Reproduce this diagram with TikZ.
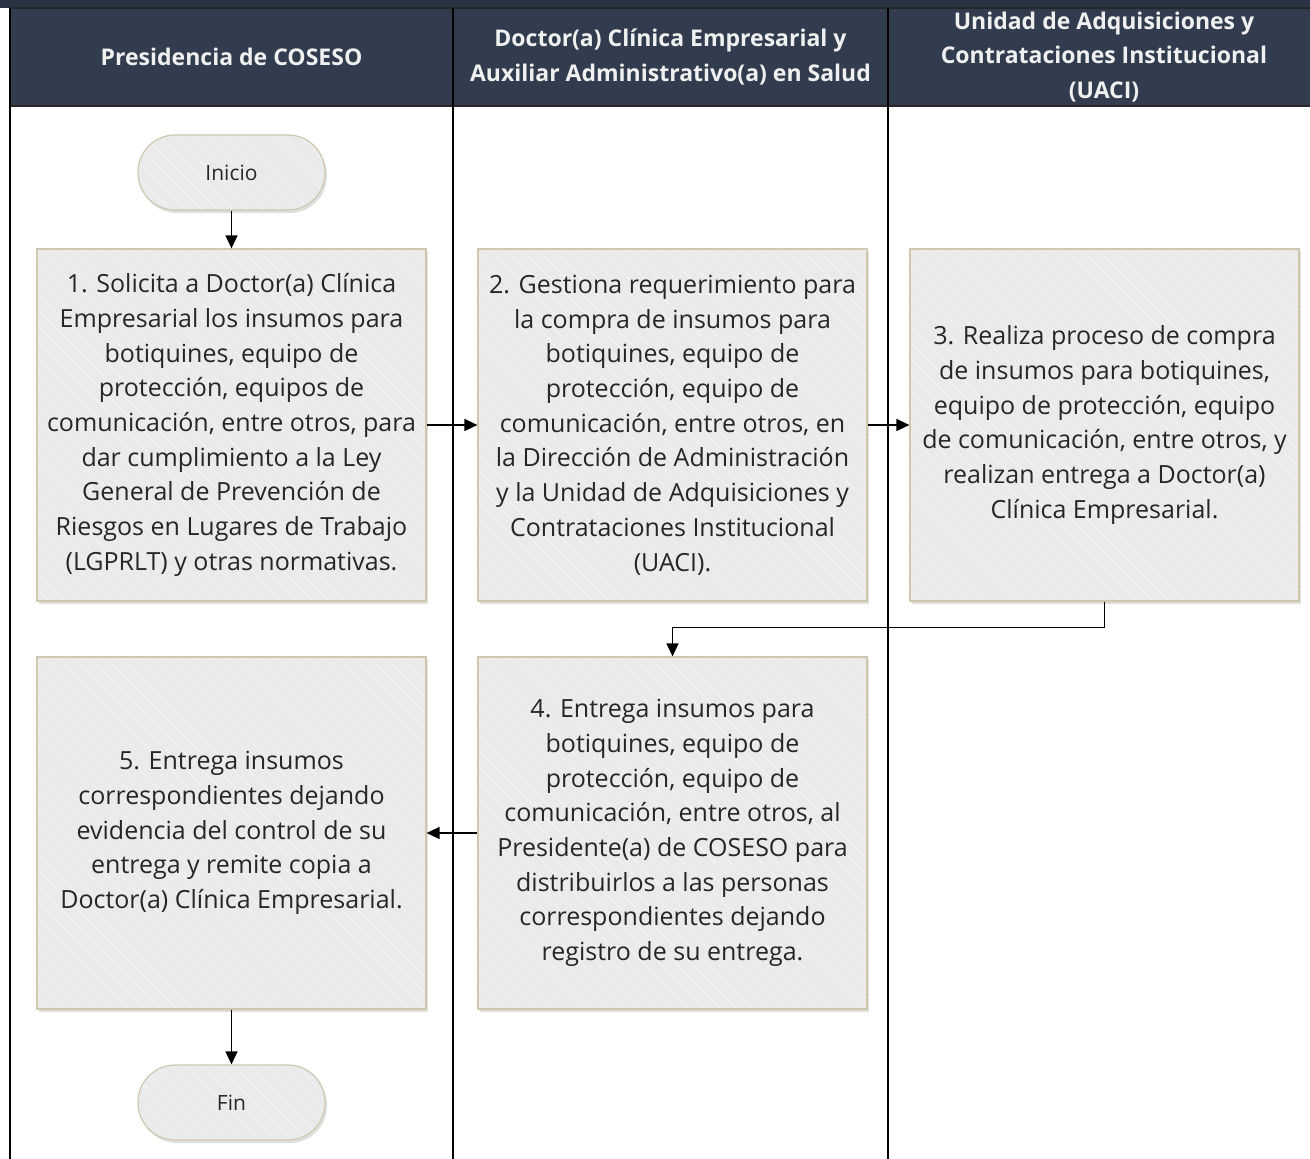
\documentclass[tikz,border=0pt]{standalone}
\usepackage{fontspec}
\setmainfont{Open Sans}
\usetikzlibrary{arrows.meta,shadows,patterns.meta}
\definecolor{hdr}{HTML}{323C4F}
\definecolor{hdrtop}{HTML}{2A3344}
\definecolor{boxfill}{HTML}{EAEAEA}
\definecolor{boxline}{HTML}{CFC7AE}
\definecolor{hatch}{HTML}{F1F1F1}
\definecolor{txt}{HTML}{262626}
\tikzset{
  procbox/.style={draw=boxline, line width=1.2pt,
    preaction={fill=boxfill, drop shadow={opacity=0.25, shadow xshift=2pt, shadow yshift=-3pt}},
    pattern={Lines[distance=11pt, angle=-45, line width=1.2pt]}, pattern color=hatch,
    minimum width=389pt, minimum height=352pt, inner sep=0pt, align=center,
    text=txt, font=\fontsize{25}{34.7}\selectfont},
  termbox/.style={draw=boxline, line width=1.2pt, rounded corners=37pt,
    preaction={fill=boxfill, drop shadow={opacity=0.25, shadow xshift=2pt, shadow yshift=-3pt}},
    pattern={Lines[distance=11pt, angle=-45, line width=1.2pt]}, pattern color=hatch,
    minimum width=187pt, minimum height=75pt, inner sep=0pt, align=center,
    text=txt, font=\fontsize{21}{24}\selectfont},
  hdrtext/.style={text=white!94!black, align=center, inner sep=0pt,
    font=\fontsize{23}{34.5}\selectfont\bfseries},
  flow/.style={-{Triangle[width=12pt,length=13pt]}, line width=1.4pt, black},
  lane/.style={line width=1.5pt, black}
}
\begin{document}
\begin{tikzpicture}[x=1pt,y=-1pt]
\useasboundingbox (0,0) rectangle (1310,1159);
% header band
\fill[hdrtop] (0,0) rectangle (1310,8);
\fill[hdr] (10,8) rectangle (1310,106);
\draw[line width=1.5pt, black!85] (10,8) -- (1310,8);
\draw[line width=1.5pt, black!85] (10,106) -- (1310,106);
% lanes
\draw[lane] (10,8) -- (10,1159);
\draw[lane] (453,8) -- (453,1159);
\draw[lane] (888,8) -- (888,1159);
% header texts
\node[hdrtext] (h1) at (231.5,57) {Presidencia de COSESO};
\node[hdrtext] (h2) at (670.5,57) {Doctor(a) Clínica Empresarial y\\Auxiliar Administrativo(a) en Salud};
\node[hdrtext] (h3) at (1104,57) {Unidad de Adquisiciones y\\Contrataciones Institucional\\(UACI)};
% nodes
\node[termbox] (ini) at (231.5,172.5) {Inicio};
\node[procbox] (b1) at (231.5,425) {1. Solicita a Doctor(a) Clínica\\Empresarial los insumos para\\botiquines, equipo de\\protección, equipos de\\comunicación, entre otros, para\\dar cumplimiento a la Ley\\General de Prevención de\\Riesgos en Lugares de Trabajo\\(LGPRLT) y otras normativas.};
\node[procbox] (b2) at (672.5,425) {2. Gestiona requerimiento para\\la compra de insumos para\\botiquines, equipo de\\protección, equipo de\\comunicación, entre otros, en\\la Dirección de Administración\\y la Unidad de Adquisiciones y\\Contrataciones Institucional\\(UACI).};
\node[procbox] (b3) at (1104.5,425) {3. Realiza proceso de compra\\de insumos para botiquines,\\equipo de protección, equipo\\de comunicación, entre otros, y\\realizan entrega a Doctor(a)\\Clínica Empresarial.};
\node[procbox] (b4) at (672.5,833) {4. Entrega insumos para\\botiquines, equipo de\\protección, equipo de\\comunicación, entre otros, al\\Presidente(a) de COSESO para\\distribuirlos a las personas\\correspondientes dejando\\registro de su entrega.};
\node[procbox] (b5) at (231.5,833) {5. Entrega insumos\\correspondientes dejando\\evidencia del control de su\\entrega y remite copia a\\Doctor(a) Clínica Empresarial.};
\node[termbox] (fin) at (231.5,1102.5) {Fin};
% connectors
\draw[flow] (ini) -- (b1);
\draw[flow] (b1) -- (b2);
\draw[flow] (b2) -- (b3);
\draw[flow] (b3.south) -- ++(0,26) -| (b4.north);
\draw[flow] (b4) -- (b5);
\draw[flow] (b5) -- (fin);
\end{tikzpicture}
\end{document}
